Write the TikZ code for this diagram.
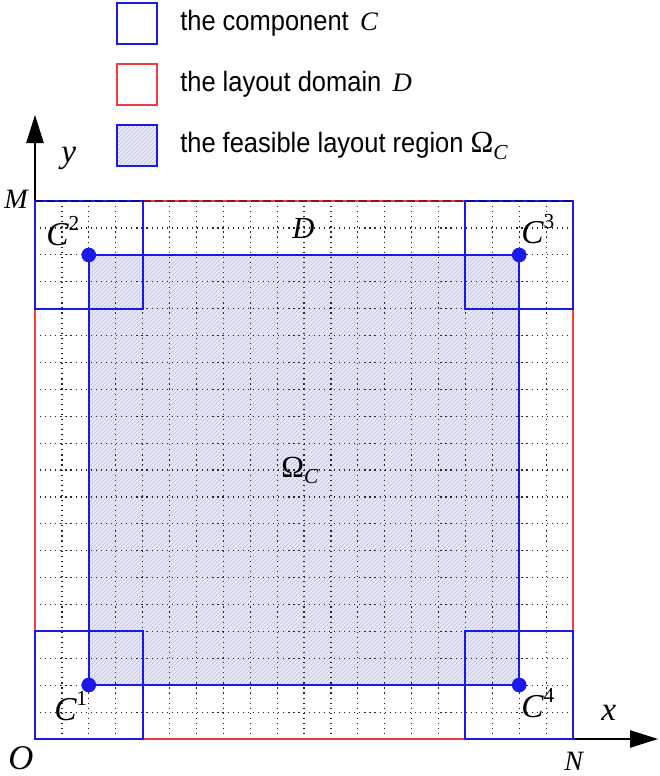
\documentclass[tikz,border=0pt]{standalone}
\usepackage{fontspec}
\setmainfont{Liberation Serif}
\newfontfamily\legfont[FakeStretch=0.91]{Liberation Sans}
\usetikzlibrary{patterns,arrows.meta}
\definecolor{cblue}{RGB}{25,25,235}
\definecolor{cred}{RGB}{238,60,60}
\definecolor{omfill}{RGB}{232,234,249}
\definecolor{omhatch}{RGB}{185,190,234}
\newcommand{\supx}[1]{\raisebox{0.95ex}{\fontsize{16}{16}\selectfont\upshape #1}}
\newcommand{\subx}[1]{\raisebox{-0.45ex}{\fontsize{16}{16}\selectfont\itshape #1}}
\begin{document}
\begin{tikzpicture}[x=0.75pt,y=-0.75pt,
  comp/.style={draw=cblue,line width=1.5pt},
  dom/.style={draw=cred,line width=1.1pt},
  gridline/.style={draw=black!85,line width=0.9pt,dash pattern=on 0.9pt off 2.9pt},
  axis/.style={draw=black,line width=1.1pt,-{Triangle[length=21pt,width=13pt]}},
  lbl/.style={font=\fontsize{25}{27}\selectfont\itshape,inner sep=0pt,anchor=base west},
  leg/.style={font=\legfont\fontsize{21}{24}\selectfont,anchor=west,inner sep=0pt},
  dot/.style={circle,fill=cblue,inner sep=0pt,minimum size=11pt},
  topdash/.style={draw=black,opacity=0.5,line width=1.5pt,dash pattern=on 6pt off 3pt}
]
\useasboundingbox (0,0) rectangle (660,776);

% legend
\draw[comp] (117,3) rectangle (157,44);
\draw[dom] (117,64) rectangle (157,105);
\fill[omfill] (117,125) rectangle (157,166);
\fill[pattern=north east lines,pattern color=omhatch] (117,125) rectangle (157,166);
\draw[comp] (117,125) rectangle (157,166);
\node[leg] (leg1) at (180,23) {the component\hspace{0.4em}{\rmfamily\itshape\fontsize{20}{22}\selectfont C}};
\node[leg] (leg2) at (180,84) {the layout domain\hspace{0.4em}{\rmfamily\itshape\fontsize{20}{22}\selectfont D}};
\node[leg] (leg3) at (180,146) {the feasible layout region {\rmfamily\fontsize{23}{24}\selectfont Ω\subx{C}}};

% axes
\coordinate (O) at (35,739);
\coordinate (yend) at (35,115);
\coordinate (xend) at (658,739);
\draw[axis] (O) -- (yend);
\draw[axis] (O) -- (xend);

% feasible region fill
\fill[omfill] (88.8,255) rectangle (519.2,685);
\fill[pattern=north east lines,pattern color=omhatch] (88.8,255) rectangle (519.2,685);

% grid
\foreach \i in {1,...,19}{
  \draw[gridline] ({35+26.9*\i},201) -- ({35+26.9*\i},739);
  \draw[gridline] (35,{201+26.9*\i}) -- (573,{201+26.9*\i});
}

% domain
\draw[dom] (35,201) rectangle (573,739);

% components
\draw[comp] (35,631.4) rectangle (142.6,739);
\draw[comp] (35,201) rectangle (142.6,308.6);
\draw[comp] (465.4,201) rectangle (573,308.6);
\draw[comp] (465.4,631.4) rectangle (573,739);

% feasible region boundary
\draw[comp] (88.8,255) rectangle (519.2,685);

% top dashed overlay
\draw[topdash] (35,201) -- (573,201);

% corner points
\node[dot] (p1) at (88.8,685) {};
\node[dot] (p2) at (88.8,255) {};
\node[dot] (p3) at (519.2,255) {};
\node[dot] (p4) at (519.2,685) {};

% labels
\node[lbl] (c2) at (46,245) {C\supx{2}};
\node[lbl] (c3) at (521,243) {C\supx{3}};
\node[lbl] (c1) at (54,720) {C\supx{1}};
\node[lbl] (c4) at (521,717) {C\supx{4}};
\node[lbl,font=\fontsize{23}{25}\selectfont\itshape] (dlab) at (292,238) {D};
\node[lbl,font=\fontsize{23}{25}\selectfont\upshape] (om) at (281,477) {Ω\subx{C}};
\node[lbl] (ylab) at (61,162) {y};
\node[lbl] (xlab) at (601,720) {x};
\node[lbl,font=\fontsize{21}{23}\selectfont\itshape] (mlab) at (4,208) {M};
\node[lbl,font=\fontsize{26}{28}\selectfont\itshape] (olab) at (8,769) {O};
\node[lbl,font=\fontsize{21}{23}\selectfont\itshape] (nlab) at (564,770) {N};
\end{tikzpicture}
\end{document}
